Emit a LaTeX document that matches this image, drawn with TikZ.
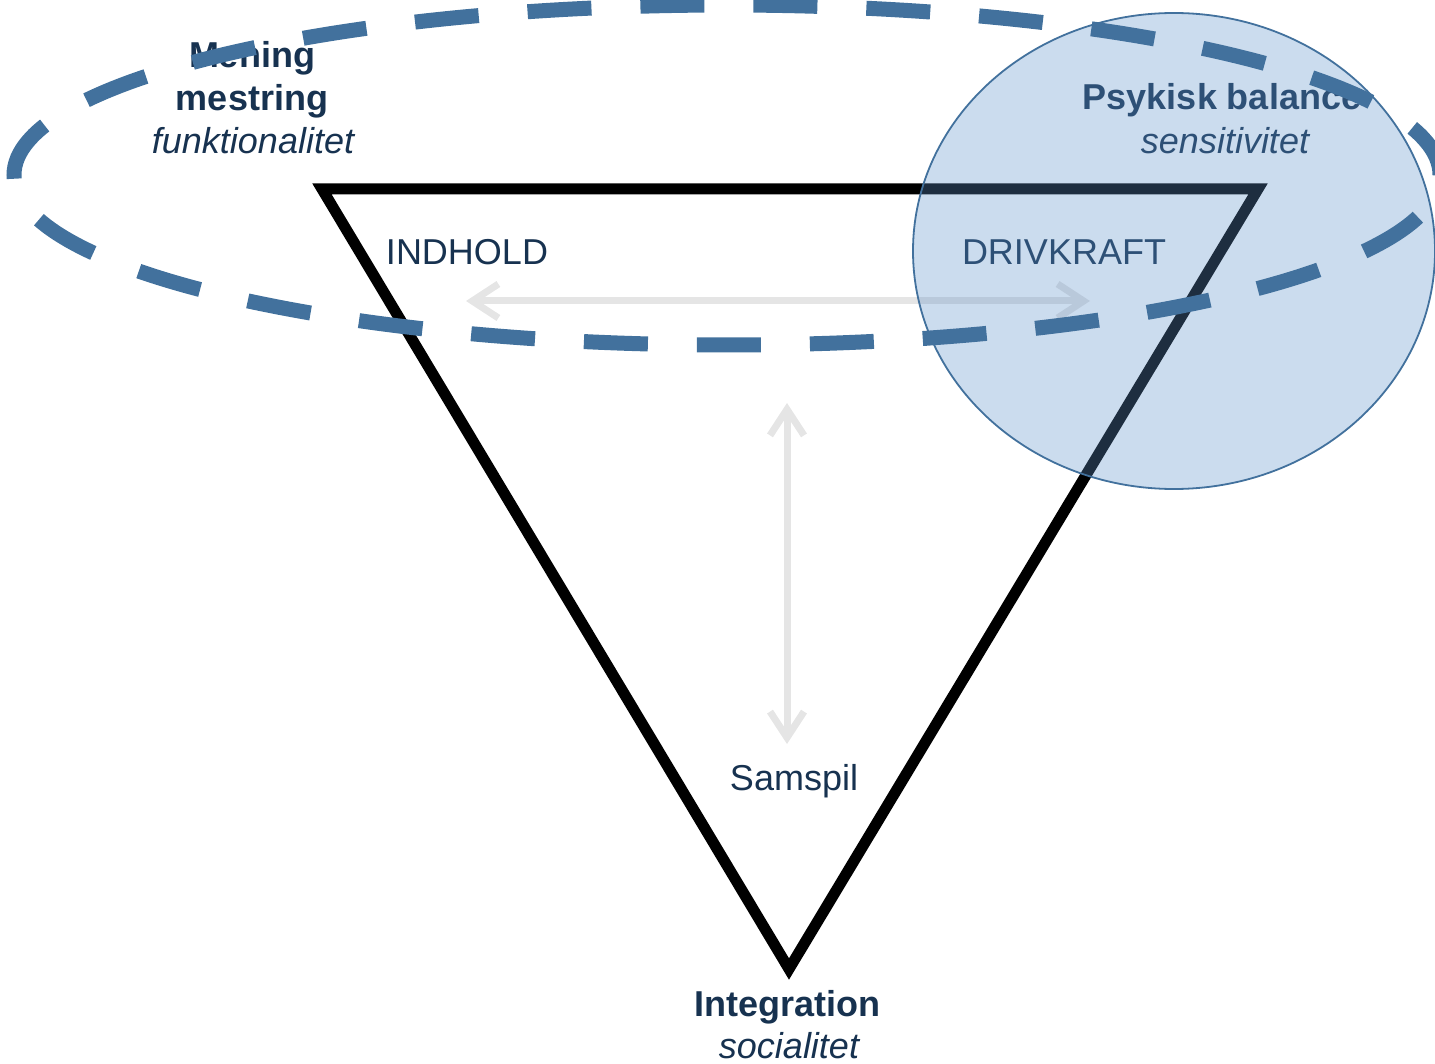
\documentclass[tikz,border=0pt]{standalone}
\usepackage{fontspec}
\setmainfont{Liberation Sans}
\usetikzlibrary{arrows.meta}
\definecolor{navy}{RGB}{23,50,80}
\definecolor{dashblue}{RGB}{66,113,157}
\definecolor{circfill}{RGB}{94,145,201}
\definecolor{arrgray}{RGB}{229,229,229}
\tikzset{
  lab/.style={inner sep=0pt, anchor=base, text=navy, font=\fontsize{36}{43}\selectfont},
  labb/.style={lab, font=\fontsize{36}{43}\selectfont\bfseries},
  labi/.style={lab, font=\fontsize{36}{43}\selectfont\itshape},
  tri/.style={draw=black, line width=11pt, miter limit=10, line join=miter},
  grayarrow/.style={draw=arrgray, line width=7pt, {Straight Barb[length=26pt,width=34pt]}-{Straight Barb[length=26pt,width=34pt]}},
  dashell/.style={draw=dashblue, line width=15pt, dash pattern=on 64pt off 49pt, dash phase=64pt},
  bluecirc/.style={fill=circfill, fill opacity=0.32, draw=dashblue, draw opacity=1, line width=1.8pt}
}
\begin{document}
\begin{tikzpicture}[x=1pt,y=-1pt]
\useasboundingbox (0,0) rectangle (1435,1064);
% triangle
\coordinate (tl) at (322,189);
\coordinate (tr) at (1258,189);
\coordinate (bt) at (789,969);
\draw[tri] (tl) -- (tr) -- (bt) -- cycle;
% arrows
\coordinate (hl) at (466,301);
\coordinate (hr) at (1090,301);
\coordinate (vt) at (787,403);
\coordinate (vb) at (787,744);
\draw[grayarrow] (hl) -- (hr);
\draw[grayarrow] (vt) -- (vb);
% texts
\node[labb] (mening) at (252,68) {Mening};
\node[labb] (mestring) at (252,111) {mestring};
\node[labi] (funk) at (253,154) {funktionalitet};
\node[labb] (psyk) at (1222,110) {Psykisk balance};
\node[labi] (sens) at (1225,154) {sensitivitet};
\node[lab] (indhold) at (467,265) {INDHOLD};
\node[lab] (drivkraft) at (1064,265) {DRIVKRAFT};
\node[lab] (samspil) at (794,790) {Samspil};
\node[labb] (integ) at (787,1016) {Integration};
\node[labi] (social) at (789,1058) {socialitet};
% blue circle
\coordinate (cc) at (1174,251);
\draw[bluecirc] (cc) ellipse [x radius=261, y radius=238];
% dashed ellipse
\coordinate (ec) at (727,175);
\draw[dashell] (ec) ellipse [x radius=713, y radius=170];
\end{tikzpicture}
\end{document}
